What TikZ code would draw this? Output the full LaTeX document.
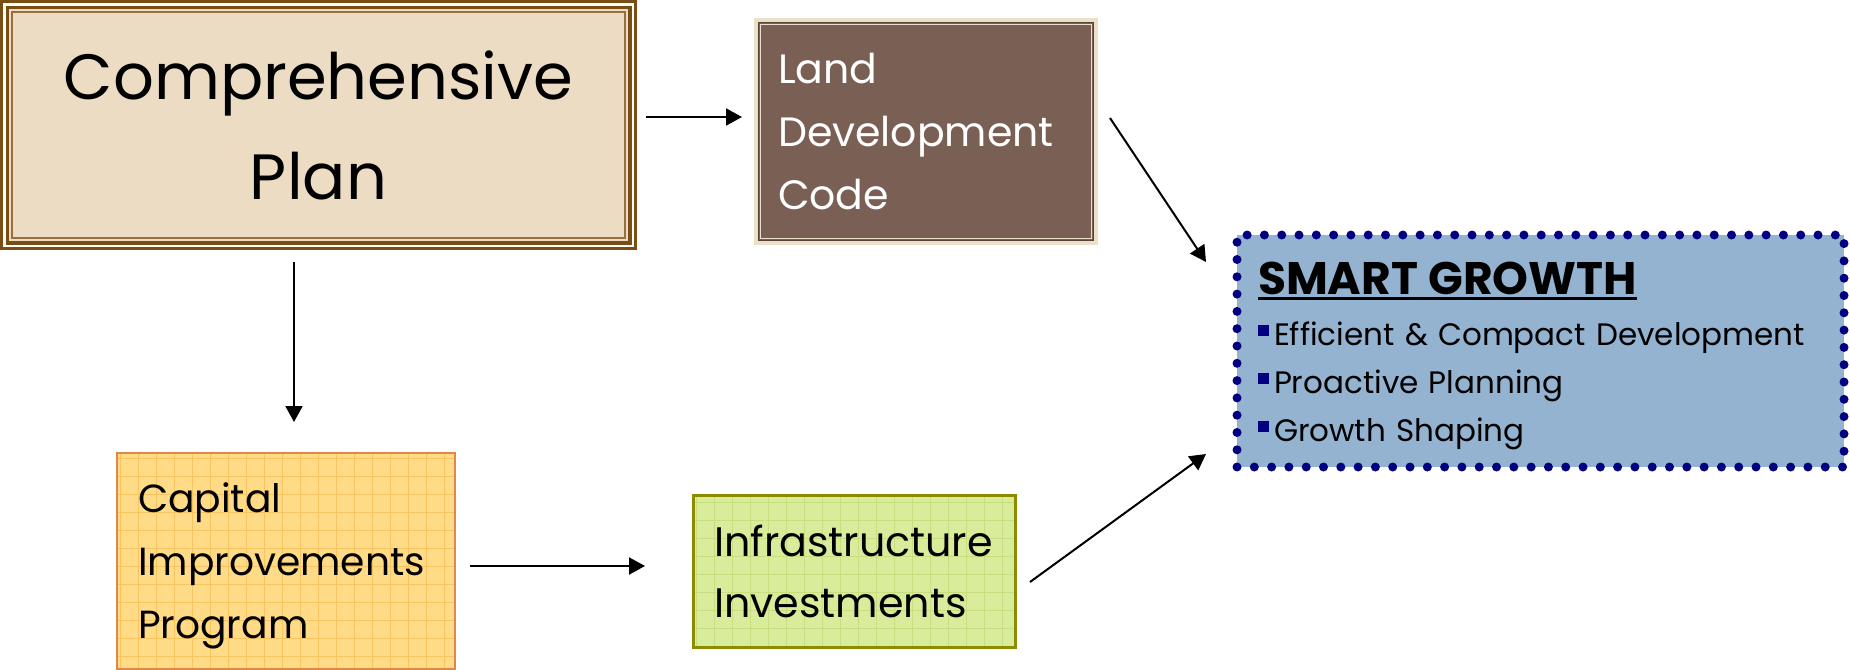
\documentclass[tikz,border=0pt]{standalone}
\usepackage{fontspec}
\setmainfont{Poppins}
\usetikzlibrary{arrows.meta,positioning,calc}

\definecolor{planfill}{RGB}{235,220,195}
\definecolor{planbrown}{RGB}{122,78,18}
\definecolor{ldcfill}{RGB}{122,95,85}
\definecolor{ldcedge}{RGB}{237,224,200}
\definecolor{smartfill}{RGB}{147,179,209}
\definecolor{smartdot}{RGB}{0,0,128}
\definecolor{cipfill}{RGB}{255,218,135}
\definecolor{cipgrid}{RGB}{247,196,95}
\definecolor{cipedge}{RGB}{226,135,75}
\definecolor{infrafill}{RGB}{216,236,155}
\definecolor{infragrid}{RGB}{200,222,128}
\definecolor{infraedge}{RGB}{140,140,0}

\newcommand{\sgbullet}{\textcolor{smartdot}{\rule[4.5pt]{5.5pt}{5.5pt}}\kern2.5pt}
\newcommand{\sghead}[1]{\vtop{\hbox{#1}\kern1pt\hrule height 1.5pt}}

\begin{document}
\begin{tikzpicture}[
    x=0.5pt, y=-0.5pt,
    box/.style={rectangle, inner sep=0pt, outer sep=0pt},
    planbox/.style={box, fill=planfill, minimum width=318.5pt, minimum height=125pt,
        align=center, font=\fontsize{32}{50}\selectfont,
        path picture={
            \draw[planbrown, line width=1.5pt] ([shift={(1.5,1.5)}]path picture bounding box.north west) rectangle ([shift={(-1.5,-1.5)}]path picture bounding box.south east);
            \draw[white, line width=1.25pt] ([shift={(4.25,4.25)}]path picture bounding box.north west) rectangle ([shift={(-4.25,-4.25)}]path picture bounding box.south east);
            \draw[planbrown, line width=1.75pt] ([shift={(7.25,7.25)}]path picture bounding box.north west) rectangle ([shift={(-7.25,-7.25)}]path picture bounding box.south east);
            \draw[planbrown!80, line width=1pt] ([shift={(12,12)}]path picture bounding box.north west) rectangle ([shift={(-12,-12)}]path picture bounding box.south east);
        }},
    ldcbox/.style={box, fill=ldcfill, text=white, minimum width=172pt, minimum height=113.5pt,
        align=left, text width=148pt, font=\fontsize{20.5}{31.5}\selectfont,
        path picture={
            \draw[ldcedge, line width=2pt] ([shift={(2,2)}]path picture bounding box.north west) rectangle ([shift={(-2,-2)}]path picture bounding box.south east);
            \draw[ldcfill!70!black, line width=0.6pt] ([shift={(4.6,4.6)}]path picture bounding box.north west) rectangle ([shift={(-4.6,-4.6)}]path picture bounding box.south east);
            \draw[ldcedge, line width=0.75pt] ([shift={(6.5,6.5)}]path picture bounding box.north west) rectangle ([shift={(-6.5,-6.5)}]path picture bounding box.south east);
        }},
    smartbox/.style={box, fill=smartfill, draw=smartdot, line width=4.5pt, line cap=round,
        dash pattern=on 0pt off 8.65pt, minimum width=303.5pt, minimum height=116pt,
        align=left, text width=282.5pt, font=\fontsize{15.5}{24}\selectfont},
    cipbox/.style={box, fill=cipfill, draw=cipedge, line width=1pt, minimum width=169pt, minimum height=108pt,
        align=left, text width=148pt, font=\fontsize{19.6}{31.5}\selectfont,
        path picture={
            \draw[cipgrid, line width=0.4pt, step=9pt] (path picture bounding box.south west) grid (path picture bounding box.north east);
        }},
    infrabox/.style={box, fill=infrafill, draw=infraedge, line width=1.5pt, minimum width=161pt, minimum height=76pt,
        align=left, text width=140pt, font=\fontsize{20.6}{30.5}\selectfont,
        path picture={
            \draw[infragrid, line width=0.4pt, step=9pt] (path picture bounding box.south west) grid (path picture bounding box.north east);
        }},
    line/.style={draw, -{Triangle[length=8pt,width=8.5pt]}, line width=1pt}
]
\useasboundingbox (0,0) rectangle (1850,669);

% Nodes
\node[planbox] (plan) at (318.5,125) {Comprehensive\\Plan};
\node[ldcbox, right=58.5pt of plan, yshift=-3.25pt] (ldc) {Land\\Development\\Code};
\node[cipbox, below=101.5pt of plan, xshift=-16.25pt] (cip) {\rule{0pt}{20pt}Capital\\Improvements\\Program};
\node[infrabox, right=119pt of cip, yshift=-5pt] (infra) {Infrastructure\\Investments};
\node[smartbox, right=69.5pt of ldc, yshift=-109.75pt] (smart) {\rule{0pt}{21pt}\textcolor{black}{\fontsize{22.8}{24}\bfseries\sghead{SMART GROWTH}}\\[1.5pt]
    \sgbullet Efficient \& Compact Development\\
    \sgbullet Proactive Planning\\
    \sgbullet Growth Shaping};

% Lines
\draw[line] ([shift={(9,-8)}]plan.east) -- ([shift={(-12,-14.5)}]ldc.west);
\draw[line] ([shift={(-24.5,12)}]plan.south) -- ([shift={(8,-31)}]cip.north);
\draw[line] ([shift={(15,5)}]cip.east) -- ([shift={(-48,-5)}]infra.west);

% Lines to Smart Growth
\draw[line] ([shift={(12,-13.5)}]ldc.east) -- ([shift={(-31,27)}]smart.north west);
\draw[line] ([shift={(15,11)}]infra.east) -- ([shift={(-31,-13)}]smart.south west);

\end{tikzpicture}
\end{document}
